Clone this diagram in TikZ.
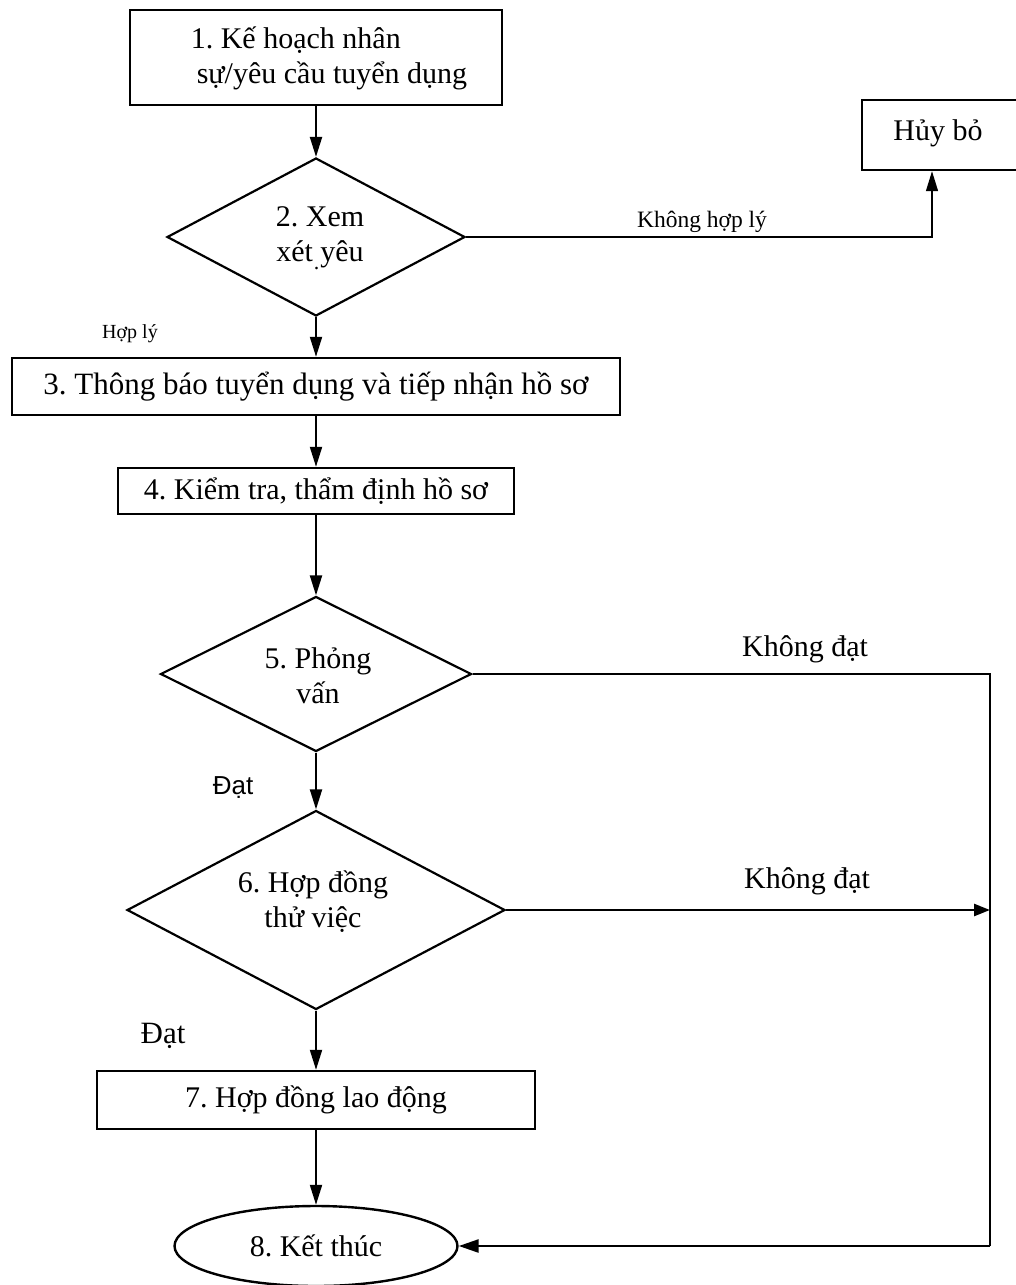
\documentclass[tikz,border=0pt]{standalone}
\usepackage{fontspec}
\setmainfont{Liberation Serif}
\newfontfamily\arialf{Liberation Sans}
\usetikzlibrary{shapes.geometric,arrows.meta}
\begin{document}
\frenchspacing
\begin{tikzpicture}[x=1pt,y=-1pt,
  boxnode/.style={draw,line width=2.4pt,inner sep=0pt,font=\fontsize{30}{36}\selectfont},
  decnode/.style={draw,diamond,line width=2.2pt,inner sep=0pt},
  txt/.style={font=\fontsize{30}{35}\selectfont,inner sep=0pt},
  lbl/.style={inner sep=0pt},
  conn/.style={line width=2pt,-{Triangle[length=20pt,width=12pt]}},
  thinline/.style={line width=1.4pt},
  thickline/.style={line width=2.6pt}]
\useasboundingbox (0,0) rectangle (1016,1285);

% nodes
\node[boxnode,minimum width=372pt,minimum height=95pt] (b1) at (316,57.5) {};
\node[txt,align=left] (t1) at (329,58) {1. Kế hoạch nhân\\\hspace*{6pt}sự/yêu cầu tuyển dụng};

\node[decnode,minimum width=298pt,minimum height=158pt,aspect=1.886] (d2) at (316,237) {};
\node[txt,align=center] (t2) at (320,238) {2. Xem\\xét\makebox[0pt][l]{\hspace{1pt}\raisebox{-8pt}{\fontsize{22}{22}\selectfont .}} yêu};

\node[draw,line width=2.4pt,minimum width=158pt,minimum height=70pt] (h) at (941,135) {};
\node[txt] (th) at (938,133) {Hủy bỏ};

\node[boxnode,minimum width=608pt,minimum height=57pt] (b3) at (316,386.5) {\fontsize{31}{36}\selectfont 3. Thông báo tuyển dụng và tiếp nhận hồ sơ};

\node[boxnode,minimum width=396pt,minimum height=46pt] (b4) at (316,491) {4. Kiểm tra, thẩm định hồ sơ};

\node[decnode,minimum width=311pt,minimum height=155pt,aspect=2.0] (d5) at (316,674) {};
\node[txt,align=center] (t5) at (318,676) {5. Phỏng\\vấn};

\node[decnode,minimum width=378pt,minimum height=199pt,aspect=1.9] (d6) at (316,910) {};
\node[txt,align=center] (t6) at (313,902) {6. Hợp đồng\\thử việc};

\node[boxnode,minimum width=438pt,minimum height=58pt] (b7) at (316,1100) {7. Hợp đồng lao động};

\node[draw,ellipse,line width=2.4pt,minimum width=283pt,minimum height=80pt,inner sep=0pt,font=\fontsize{30}{36}\selectfont] (e8) at (316,1246) {8. Kết thúc};

% corner coordinates
\coordinate (hk) at (932,237);
\coordinate (r5) at (990,674);
\coordinate (r6) at (990,910);
\coordinate (r8) at (990,1246);

% labels
\node[lbl,font=\fontsize{23.5}{27}\selectfont] (lk) at (702,222) {Không hợp lý};
\node[lbl,font=\fontsize{20}{24}\selectfont] (lh) at (130,334) {Hợp lý};
\node[lbl,font=\fontsize{30}{34}\selectfont] (lk5) at (805,649) {Không đạt};
\node[lbl,font=\arialf\fontsize{26}{30}\selectfont] (ld5) at (233,788) {Đạt};
\node[lbl,font=\fontsize{31}{34}\selectfont] (ld6) at (163,1036) {Đạt};
\node[lbl,font=\fontsize{30}{34}\selectfont] (lk6) at (807,881) {Không đạt};

% connectors
\draw[conn] (b1.south) -- (d2.north);
\draw[conn] (d2.south) -- (b3.north);
\draw[thinline,-{Triangle[length=20pt,width=12pt]}] (d2.east) -- (hk) -- (hk |- h.south);
\draw[conn] (b3.south) -- (b4.north);
\draw[conn] (b4.south) -- (d5.north);
\draw[conn] (d5.south) -- (d6.north);
\draw[conn] (d6.south) -- (b7.north);
\draw[conn] (b7.south) -- (e8.north);
\draw[thinline] (d5.east) -- (r5) -- (r8);
\draw[thickline,-{Triangle[length=16pt,width=12pt]}] (d6.east) -- (r6);
\draw[thickline,-{Triangle[length=20pt,width=13pt]}] (r8) -- (e8.east);
\end{tikzpicture}
\end{document}
